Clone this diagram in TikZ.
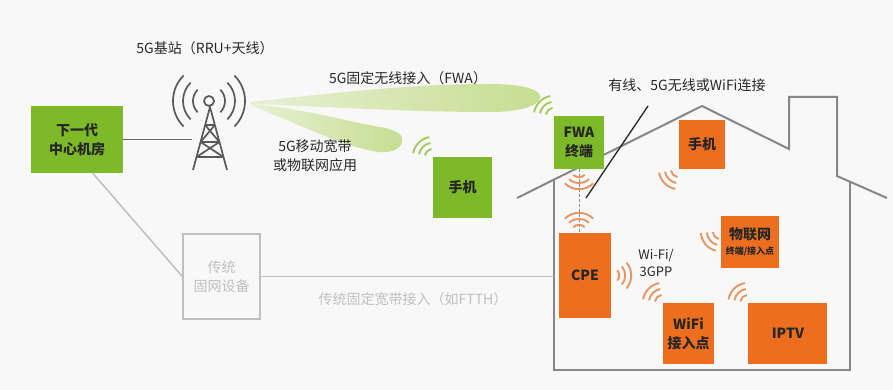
\documentclass[tikz,border=0pt]{standalone}
\usepackage{fontspec}
\setmainfont{Noto Sans CJK SC}
\usepackage{tikz}
\usetikzlibrary{positioning}
\definecolor{fwagreen}{RGB}{125,185,40}
\definecolor{homeorange}{RGB}{237,110,30}
\definecolor{beam}{RGB}{198,221,145}
\definecolor{beamlight}{RGB}{232,240,212}
\definecolor{wavegreen}{RGB}{165,203,95}
\definecolor{waveorange}{RGB}{228,150,100}
\definecolor{txt}{RGB}{40,40,40}
\definecolor{legacy}{RGB}{192,192,192}
\definecolor{wall}{RGB}{135,135,135}
\definecolor{bg}{RGB}{248,248,248}
\newcommand{\waves}[4]{%
	\foreach \rad in {8,14,20}{%
		\draw[#4] (#1) ++(#2:\rad) arc[start angle=#2,end angle=#3,radius=\rad];}}

\begin{document}
\begin{tikzpicture}[x=1pt,y=1pt,
	gbox/.style={fill=fwagreen,inner sep=0pt,align=center,text=black!85,font=\bfseries\fontsize{14}{19}\selectfont},
	obox/.style={fill=homeorange,inner sep=0pt,align=center,text=black!85,font=\bfseries\fontsize{14}{19}\selectfont},
	lbl/.style={text=txt,align=center,font=\fontsize{14}{19}\selectfont},
	house/.style={draw=wall,line width=2pt},
	gwave/.style={wavegreen,line width=1.9pt},
	owave/.style={waveorange,line width=1.9pt}]
		\fill[bg] (0,0) rectangle (893,-390);
		\useasboundingbox (0,0) rectangle (893,-390);
		
		% beams
		\shade[left color=beamlight,right color=beam] (250,-102) .. controls (320,-95) and (400,-84) .. (490,-84) .. controls (530,-84) and (542,-92) .. (540,-98) .. controls (538,-106) and (520,-112) .. (490,-112) .. controls (400,-112) and (320,-106) .. (250,-104) -- cycle;
		\shade[left color=beamlight,right color=beam] (252,-104) .. controls (300,-108) and (350,-122) .. (380,-127) .. controls (398,-130) and (404,-136) .. (402,-142) .. controls (400,-150) and (390,-153) .. (378,-152) .. controls (340,-146) and (290,-120) .. (252,-106) -- cycle;
		
		% tower
		\coordinate (tower) at (209,-101);
		\coordinate (towerL) at (192,-140);
		\begin{scope}[draw=black!65,line width=1.7pt]
			\draw (tower) circle[radius=5];
			\foreach \rad in {16,26,36}{%
				\draw (tower) ++(135:\rad) arc[start angle=135,end angle=225,radius=\rad];
				\draw (tower) ++(-45:\rad) arc[start angle=-45,end angle=45,radius=\rad];
			}
			\draw (193,-170) -- (210,-107) -- (227,-170);
			\draw (205.1,-125) -- (214.9,-125) (200.6,-142) -- (219.4,-142) (196.5,-157) -- (223.5,-157);
			\draw (205.1,-125) -- (219.4,-142) (214.9,-125) -- (200.6,-142);
			\draw (200.6,-142) -- (223.5,-157) (219.4,-142) -- (196.5,-157);
		\end{scope}
		
		% house
		\draw[house] (517,-198) -- (702,-106) -- (789,-149) -- (789,-97) -- (837,-97) -- (837,-176) -- (887,-198);
		\coordinate (wallL) at (554,-370);
		\coordinate (wallR) at (850,-370);
		\draw[house] (554,-179.6) -- (wallL) -- (wallR) -- (850,-181.7);
		
		\node[gbox,minimum width=92pt,minimum height=67pt] (centre) at (77,-139.5) {下一代\\中心机房};
		\node[draw=legacy,line width=1.3pt,minimum width=77pt,minimum height=85pt,inner sep=0pt,align=center,text=legacy,font=\fontsize{14}{19}\selectfont] (legacy) at (221.5,-276.5) {传统\\固网设备};
		\node[gbox,minimum width=59pt,minimum height=61pt] (phone) at (462.5,-187.5) {手机};
		\node[gbox,minimum width=50pt,minimum height=53pt] (fwa) at (579,-142.5) {FWA\\终端};
		\node[obox,minimum width=52pt,minimum height=85pt] (cpe) at (585,-275.5) {CPE};
		\node[obox,minimum width=46pt,minimum height=49pt] (mobile) at (702,-144.5) {手机};
		\node[obox,minimum width=58pt,minimum height=52pt] (iot) at (750,-242) {物联网\\[-4pt]{\fontsize{9}{11}\selectfont 终端/接入点}};
		\node[obox,minimum width=51pt,minimum height=61pt] (ap) at (688.5,-333.5) {WiFi\\接入点};
		\node[obox,minimum width=79pt,minimum height=61pt,right=34pt of ap] (iptv) {IPTV};
		
		\draw[black!60,line width=1.5pt] (centre.east) -- (centre.east -| towerL);
		\draw[legacy,line width=1.5pt] (centre.-65) -- (legacy.west);
		\draw[legacy,line width=1.5pt] (legacy.east) -- (legacy.east -| wallL);
		\draw[densely dashed,black!45,line width=0.8pt] (fwa.south) -- (fwa.south |- cpe.north);
		
		\waves{phone.north west}{100}{170}{gwave}
		\waves{fwa.north west}{100}{170}{gwave}
		\waves{fwa.south}{225}{315}{owave}
		\waves{fwa.south |- cpe.north}{45}{135}{owave}
		\waves{mobile.south west}{190}{260}{owave}
		\waves{iot.160}{185}{255}{owave}
		\waves{cpe.east}{-40}{40}{owave}
		\waves{ap.north west}{100}{170}{owave}
		\waves{iptv.north west}{100}{170}{owave}
		
		\coordinate (pointA) at (648,-106);
		\coordinate (pointB) at (586,-198);
		\draw[black!85,line width=1.3pt] (pointA) -- (pointB);
		
		\node[lbl] (bslabel) at (205,-48) {5G基站（RRU+天线）};
		\node[lbl] (fwalabel) at (408,-78) {5G固定无线接入（FWA）};
		\node[lbl] (mbblabel) at (315,-156) {5G移动宽带\\或物联网应用};
		\node[lbl] (linklabel) at (687,-85) {有线、5G无线或WiFi连接};
		\node[lbl,text=legacy] (ftthlabel) at (413,-299) {传统固定宽带接入（如FTTH）};
		\node[lbl,font=\fontsize{13}{17}\selectfont] (wifilabel) at (656,-263) {Wi-Fi/\\3GPP};
	\end{tikzpicture}
\end{document}
